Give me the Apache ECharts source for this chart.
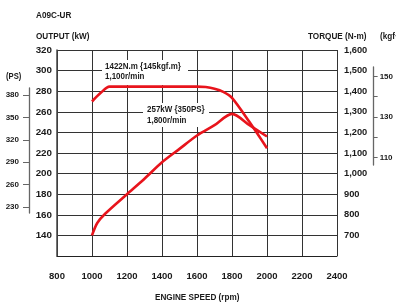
<!DOCTYPE html>
<html>
<head>
<meta charset="utf-8">
<script src="https://cdn.jsdelivr.net/npm/echarts@6/dist/echarts.min.js"></script>
<style>
  html, body { margin: 0; padding: 0; background: #fff; }
  #chart { width: 396px; height: 305px; }
</style>
</head>
<body>
<div id="chart"></div>
<script>
// engine speed (rpm) / torque (N-m)
const torqueRpm = [1000, 1050, 1100, 1200, 1300, 1400, 1500, 1600, 1650, 1700, 1750, 1800, 1900, 2000];
const torqueNm = [1350, 1392, 1422, 1422, 1422, 1422, 1422, 1422, 1420, 1412, 1397, 1368, 1250, 1123];
// engine speed (rpm) / output (kW)
const powerRpm = [1000, 1030, 1075, 1200, 1300, 1400, 1500, 1600, 1700, 1800, 1900, 2000];
const powerKw = [140, 152, 161, 180, 195, 211, 224, 237, 247, 258, 247, 236];
// secondary scales
const psTicks = [230, 260, 290, 320, 350, 380];
const kgfTicks = [110, 120, 130, 140, 150];
const kgfLabels = [110, 130, 150];

const FONT = "'Liberation Sans', Arial, sans-serif";
const TXT = '#1a1a1a';

const chart = echarts.init(document.getElementById('chart'));

function pairs(xs, ys) {
  return xs.map((x, i) => [x, ys[i]]);
}
function comma(v) {
  return String(v).replace(/\B(?=(\d{3})+(?!\d))/g, ',');
}
// condensed looking text: squeeze horizontally
function txt(x, y, text, font, sx, extra) {
  return Object.assign({
    type: 'text', x: x, y: y, scaleX: sx || 0.86, z: 1,
    style: { text: text, fill: TXT, font: font, verticalAlign: 'middle' }
  }, extra || {});
}

const option = {
  animation: false,
  grid: [
    { left: 57, right: 59, top: 50, bottom: 49 },
    // PS scale (left, detached)
    { left: 29, width: 1, top: 88, height: 125 },
    // kgf.m scale (right, detached)
    { left: 0, right: 17, top: 67, height: 98 }
  ],
  xAxis: [
    {
      type: 'value', gridIndex: 0, min: 800, max: 2400, interval: 200,
      axisLine: { show: true, lineStyle: { color: '#222', width: 1 } },
      axisTick: { show: false },
      axisLabel: { margin: 15, color: TXT, fontFamily: FONT, fontSize: 9.5, fontWeight: 'bold', formatter: v => String(v) },
      splitLine: { show: true, lineStyle: { color: '#333', width: 1 } }
    },
    { type: 'value', gridIndex: 1, show: false, min: 0, max: 1 },
    { type: 'value', gridIndex: 2, show: false, min: 0, max: 1 }
  ],
  yAxis: [
    {
      type: 'value', gridIndex: 0, min: 120, max: 320, interval: 20,
      axisLine: { show: true, onZero: false, lineStyle: { color: '#444', width: 1.5 } },
      axisTick: { show: false },
      axisLabel: {
        margin: 5, color: TXT, fontFamily: FONT, fontSize: 9.8, fontWeight: 'bold',
        formatter: v => (v === 120 ? '' : String(v))
      },
      splitLine: { show: true, lineStyle: { color: '#333', width: 1 } }
    },
    {
      type: 'value', gridIndex: 0, position: 'right', min: 600, max: 1600, interval: 100,
      axisLine: { show: false },
      axisTick: { show: false },
      axisLabel: {
        margin: 7, color: TXT, fontFamily: FONT, fontSize: 9.3, fontWeight: 'bold',
        formatter: v => (v === 600 ? '' : comma(v))
      },
      splitLine: { show: false }
    },
    {
      type: 'value', gridIndex: 1, position: 'left', min: 222, max: 389.4,
      axisLine: { show: true, onZero: false, lineStyle: { color: '#666', width: 1.3 } },
      axisTick: { show: true, length: 6, customValues: psTicks, lineStyle: { color: '#666' } },
      axisLabel: { margin: 10, customValues: psTicks, color: TXT, fontFamily: FONT, fontSize: 8, fontWeight: 'bold' },
      splitLine: { show: false }
    },
    {
      type: 'value', gridIndex: 2, position: 'right', min: 106.2, max: 154.7,
      axisLine: { show: true, onZero: false, lineStyle: { color: '#666', width: 1.3 } },
      axisTick: { show: true, length: 4, customValues: kgfTicks, lineStyle: { color: '#666' } },
      axisLabel: { margin: 6, customValues: kgfLabels, color: TXT, fontFamily: FONT, fontSize: 8, fontWeight: 'bold' },
      splitLine: { show: false }
    }
  ],
  series: [
    {
      name: 'Torque', type: 'line', xAxisIndex: 0, yAxisIndex: 1,
      data: pairs(torqueRpm, torqueNm),
      smooth: 0.3, symbol: 'none', z: 5,
      lineStyle: { color: '#e8141c', width: 2.6 }
    },
    {
      name: 'Output', type: 'line', xAxisIndex: 0, yAxisIndex: 0,
      data: pairs(powerRpm, powerKw),
      smooth: 0.3, symbol: 'none', z: 5,
      lineStyle: { color: '#e8141c', width: 2.6 }
    }
  ],
  graphic: [
    txt(36, 15, 'A09C-UR', 'bold 9.5px ' + FONT),
    txt(36, 36, 'OUTPUT (kW)', 'bold 9.5px ' + FONT),
    txt(308, 36, 'TORQUE (N-m)', 'bold 9.5px ' + FONT),
    txt(380, 36, '(kgf·m)', 'bold 9.5px ' + FONT),
    txt(6, 77, '(PS)', 'bold 9px ' + FONT, 0.85),
    txt(155, 297, 'ENGINE SPEED (rpm)', 'bold 9.5px ' + FONT),
    // annotation boxes (white, hiding the grid behind the text)
    { type: 'rect', shape: { x: 102, y: 60, width: 86, height: 25 }, style: { fill: '#fff' }, z: 1 },
    { type: 'rect', shape: { x: 143, y: 103, width: 66, height: 24 }, style: { fill: '#fff' }, z: 1 },
    txt(105, 66.7, '1422N.m {145kgf.m}', 'bold 9.5px ' + FONT, 0.84, { z: 2 }),
    txt(105, 76.7, '1,100r/min', 'bold 9.5px ' + FONT, 0.84, { z: 2 }),
    txt(147, 109.3, '257kW {350PS}', 'bold 9.5px ' + FONT, 0.84, { z: 2 }),
    txt(147, 120, '1,800r/min', 'bold 9.5px ' + FONT, 0.84, { z: 2 })
  ]
};

chart.setOption(option);
</script>
</body>
</html>
